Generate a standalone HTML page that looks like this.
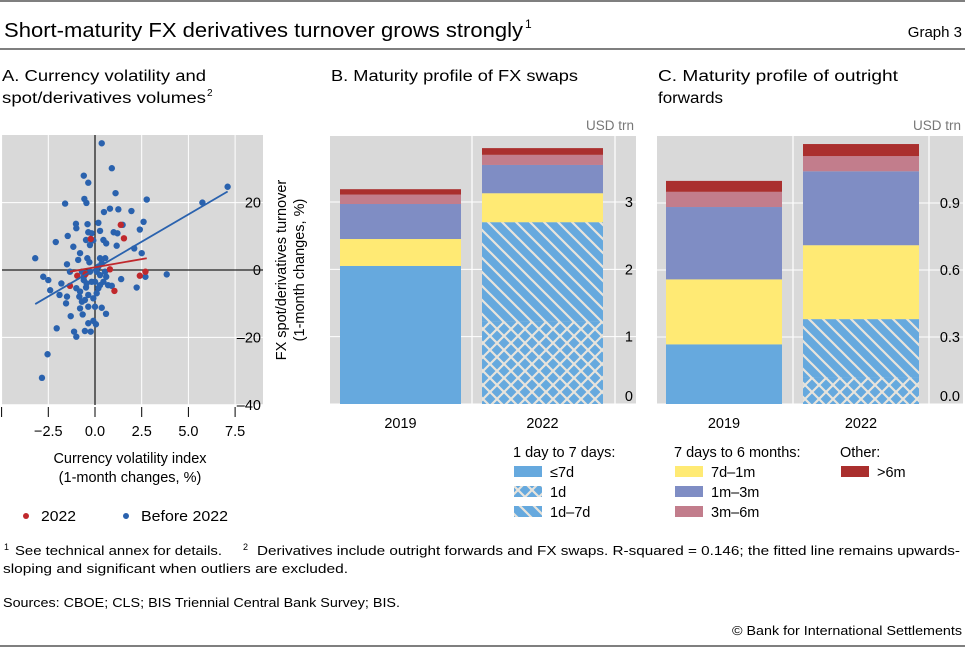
<!DOCTYPE html>
<html><head><meta charset="utf-8">
<style>
html,body{margin:0;padding:0;background:#fff;}
svg{display:block;font-family:"Liberation Sans",sans-serif;}
</style></head>
<body>
<svg id="c" width="965" height="649" viewBox="0 0 965 649">
<defs>
<pattern id="hatchD" patternUnits="userSpaceOnUse" width="14" height="14">
<rect width="14" height="14" fill="#66a9de"/>
<path d="M-2,-2 L16,16 M-2,12 L2,16 M12,-2 L16,2" stroke="#e8e4dc" stroke-width="2.2"/>
</pattern>
<pattern id="hatchX" patternUnits="userSpaceOnUse" width="14" height="14">
<rect width="14" height="14" fill="#66a9de"/>
<path d="M-2,-2 L16,16 M-2,16 L16,-2" stroke="#e8e4dc" stroke-width="2.2"/>
</pattern>
</defs>
<line x1="0" y1="1" x2="965" y2="1" stroke="#555" stroke-width="1.5"/>
<text x="4" y="37" font-size="20" textLength="519" lengthAdjust="spacingAndGlyphs">Short-maturity FX derivatives turnover grows strongly</text>
<text x="525" y="28" font-size="12">1</text>
<text x="962" y="37" font-size="15" text-anchor="end">Graph 3</text>
<line x1="0" y1="49" x2="965" y2="49" stroke="#555" stroke-width="1.5"/>

<text x="2" y="81" font-size="15.5" textLength="204" lengthAdjust="spacingAndGlyphs">A. Currency volatility and</text>
<text x="2" y="103" font-size="15.5" textLength="204" lengthAdjust="spacingAndGlyphs">spot/derivatives volumes</text>
<text x="207" y="96" font-size="10">2</text>
<text x="331" y="81" font-size="15.5" textLength="247" lengthAdjust="spacingAndGlyphs">B. Maturity profile of FX swaps</text>
<text x="658" y="81" font-size="15.5" textLength="240" lengthAdjust="spacingAndGlyphs">C. Maturity profile of outright</text>
<text x="658" y="103" font-size="15.5" textLength="65" lengthAdjust="spacingAndGlyphs">forwards</text>

<g id="pa"></g>
<g id="pb"></g>
<g id="pc"></g>

<text x="130" y="463" font-size="14.5" text-anchor="middle">Currency volatility index</text>
<text x="130" y="482" font-size="14.5" text-anchor="middle">(1-month changes, %)</text>
<g><circle cx="26" cy="516" r="3" fill="#c0282c"/><text x="41" y="521" font-size="14.5" textLength="35" lengthAdjust="spacingAndGlyphs">2022</text></g>
<g><circle cx="126" cy="516" r="3" fill="#2a62ae"/><text x="141" y="521" font-size="14.5" textLength="87" lengthAdjust="spacingAndGlyphs">Before 2022</text></g>

<text x="513" y="457" font-size="14.5">1 day to 7 days:</text>
<g><rect x="514" y="466" width="28" height="11" fill="#66a9de"/><text x="550" y="477" font-size="14.5">≤7d</text></g>
<g><rect x="514" y="486" width="28" height="11" fill="url(#hatchX)"/><text x="550" y="497" font-size="14.5">1d</text></g>
<g><rect x="514" y="506" width="28" height="11" fill="url(#hatchD)"/><text x="550" y="517" font-size="14.5">1d–7d</text></g>
<text x="674" y="457" font-size="14.5">7 days to 6 months:</text>
<g><rect x="675" y="466" width="28" height="11" fill="#ffea74"/><text x="711" y="477" font-size="14.5">7d–1m</text></g>
<g><rect x="675" y="486" width="28" height="11" fill="#7f8dc4"/><text x="711" y="497" font-size="14.5">1m–3m</text></g>
<g><rect x="675" y="506" width="28" height="11" fill="#c27d8c"/><text x="711" y="517" font-size="14.5">3m–6m</text></g>
<text x="840" y="457" font-size="14.5">Other:</text>
<g><rect x="841" y="466" width="28" height="11" fill="#aa2f2e"/><text x="877" y="477" font-size="14.5">&gt;6m</text></g>

<text x="4" y="550" font-size="9">1</text>
<text x="15" y="555" font-size="13" textLength="207" lengthAdjust="spacingAndGlyphs">See technical annex for details.</text>
<text x="243" y="550" font-size="9">2</text>
<text x="257" y="555" font-size="13" textLength="703" lengthAdjust="spacingAndGlyphs">Derivatives include outright forwards and FX swaps. R-squared = 0.146; the fitted line remains upwards-</text>
<text x="3" y="573" font-size="13" textLength="345" lengthAdjust="spacingAndGlyphs">sloping and significant when outliers are excluded.</text>
<text x="3" y="607" font-size="13" textLength="397" lengthAdjust="spacingAndGlyphs">Sources: CBOE; CLS; BIS Triennial Central Bank Survey; BIS.</text>
<text x="732" y="635" font-size="13" textLength="230" lengthAdjust="spacingAndGlyphs">© Bank for International Settlements</text>
<line x1="0" y1="646" x2="965" y2="646" stroke="#555" stroke-width="1.5"/>
</svg>
<script>
var NS='http://www.w3.org/2000/svg';
var blueX=[0.36,0.9,-0.6,-0.36,1.1,7.1,5.75,2.77,-1.6,-0.57,-0.46,0.8,1.25,0.48,1.95,-1.02,-1.0,-0.4,0.18,2.6,2.4,-1.46,-0.36,0.27,1.0,1.2,1.48,-0.18,-2.1,-0.48,-0.09,0.45,0.6,-1.16,-0.27,1.16,-0.8,2.1,-3.2,-1.5,-0.9,-0.41,-0.3,0.27,0.55,0.36,2.5,-2.77,-2.5,-1.34,-0.7,-0.27,0.09,0.27,0.6,-0.6,-0.18,0.45,-1.8,1.4,2.7,3.84,-2.4,-1.0,-0.48,0.18,0.7,0.9,-1.9,-1.5,-0.84,-0.36,0.09,2.23,-1.55,-0.7,-0.54,-0.8,-0.36,0.0,0.36,-0.66,-1.3,0.59,-0.09,-0.36,0.05,-2.05,-1.12,-1.0,-0.54,-0.23,-2.54,-2.84,0.18,-0.6,0.0,0.27,-0.45,-0.8,-0.09,0.54];
var blueY=[37.6,30.2,28,25.9,22.8,24.7,20,20.9,19.7,21.1,19.9,18.2,18,17.2,17.5,13.7,12.4,13.6,14,14.3,12,10.1,11.2,11.6,11.2,10.9,13.4,10.9,8.3,8.9,8.8,8.9,7.9,6.9,7.4,7.2,5,6.4,3.5,1.7,3,3.5,2.3,3.5,3.5,2,5,-2,-3,-0.5,-0.5,-0.5,-0.5,-1.5,-2,-3,-3.5,-3.5,-4,-2.7,-2,-1.3,-6,-5.4,-5.2,-5.4,-4.5,-4.7,-7.4,-7.9,-7.9,-7.4,-6.9,-5.2,-9.9,-9.4,-8.9,-11.4,-10.9,-10.9,-11.2,-13.2,-13.7,-13,-15.1,-15.8,-16.1,-17.3,-18.3,-19.8,-18.1,-18.3,-25,-32,1,-2,-3.5,-4.5,-4,-6.4,-8.4,-0.5];
var redX=[1.38,1.55,-0.23,0.8,-0.95,-0.5,-1.34,2.4,2.7,1.04];
var redY=[13.4,9.4,9.2,0.2,-1.7,-1.2,-4.7,-1.7,-0.5,-6.2];
var blueFitX=[-3.2,7.1], blueFitY=[-10.1,23.3];
var redFitX=[-1.34,2.77], redFitY=[-0.5,3.5];
var aXTicks=[-5,-2.5,0,2.5,5,7.5];
var aXLabels=['','−2.5','0.0','2.5','5.0','7.5'];
var aYTicks=[20,0,-20,-40];
var aYLabels=['20','0','–20','–40'];
function ax(v){return 95+v*18.68;}
function ay(v){return 270-v*3.37;}
function el(p,t,a){var e=document.createElementNS(NS,t);for(var k in a)e.setAttribute(k,a[k]);p.appendChild(e);return e;}
var pa=document.getElementById('pa');
var bg=el(pa,'rect',{x:2,y:135,width:261,height:270,fill:'#d9d9d9'});


aXTicks.forEach(function(t,i){
  if(t!==0){var g=el(pa,'line',{x1:ax(t),x2:ax(t),y1:135,y2:405,stroke:'#fff','stroke-width':1});
  }
  var tk=el(pa,'line',{x1:ax(t),x2:ax(t),y1:407,y2:417,stroke:'#000','stroke-width':1});
  
  var tl=el(pa,'text',{x:ax(t),y:436,'font-size':14.5,'text-anchor':'middle'});tl.textContent=aXLabels[i];
  
});
aYTicks.forEach(function(t,i){
  if(t!==0){var g=el(pa,'line',{x1:2,x2:263,y1:ay(t),y2:ay(t),stroke:'#fff','stroke-width':1});
  }
  var tl=el(pa,'text',{x:261,y:ay(t)+5,'font-size':14.5,'text-anchor':'end'});tl.textContent=aYLabels[i];
  
});
var z1=el(pa,'line',{x1:2,x2:263,y1:ay(0),y2:ay(0),stroke:'#222','stroke-width':1.3});

var z2=el(pa,'line',{x1:ax(0),x2:ax(0),y1:135,y2:405,stroke:'#222','stroke-width':1.3});

blueX.forEach(function(x,i){var c=el(pa,'circle',{cx:ax(x),cy:ay(blueY[i]),r:3.2,fill:'#2a62ae'});
  });
redX.forEach(function(x,i){var c=el(pa,'circle',{cx:ax(x),cy:ay(redY[i]),r:3.2,fill:'#c0282c'});
  });
var bl=el(pa,'line',{x1:ax(blueFitX[0]),y1:ay(blueFitY[0]),x2:ax(blueFitX[1]),y2:ay(blueFitY[1]),stroke:'#2a62ae','stroke-width':1.8});

var rl=el(pa,'line',{x1:ax(redFitX[0]),y1:ay(redFitY[0]),x2:ax(redFitX[1]),y2:ay(redFitY[1]),stroke:'#c0282c','stroke-width':1.8});

var yt=el(pa,'text',{transform:'translate(286,270) rotate(-90)','font-size':14.5,'text-anchor':'middle'});
yt.textContent='FX spot/derivatives turnover';

var yt2=el(pa,'text',{transform:'translate(304,270) rotate(-90)','font-size':14.5,'text-anchor':'middle'});
yt2.textContent='(1-month changes, %)';


var years=['2019','2022'];
var segNames=['le7d','1d','1d-7d','7d-1m','1m-3m','3m-6m','gt6m'];
var segFill=['#66a9de','url(#hatchX)','url(#hatchD)','#ffea74','#7f8dc4','#c27d8c','#aa2f2e'];
var swaps2019=[2.05,0,0,0.40,0.52,0.14,0.08];
var swaps2022=[0,1.22,1.48,0.43,0.42,0.15,0.10];
var fwd2019=[0.267,0,0,0.291,0.324,0.068,0.049];
var fwd2022=[0,0.119,0.261,0.331,0.331,0.068,0.054];
var bTicks=[0,1,2,3], bLabels=['0','1','2','3'];
var cTicks=[0,0.3,0.6,0.9], cLabels=['0.0','0.3','0.6','0.9'];

function panel(id,x0,x1,vlines,yMax,ticks,labels,barX,barW,data){
  var g=document.getElementById(id);
  function sy(v){return 404-v/yMax*268;}
  var r=el(g,'rect',{x:x0,y:136,width:x1-x0,height:268,fill:'#d9d9d9'});
  
  ticks.forEach(function(t){
    var l=el(g,'line',{x1:x0,x2:x1,y1:sy(t),y2:sy(t),stroke:'#fff','stroke-width':1});
    
  });
  vlines.forEach(function(v){var l=el(g,'line',{x1:v,x2:v,y1:136,y2:404,stroke:'#fff','stroke-width':1.2});
    });
  data.forEach(function(d,b){
    var acc=0;
    d.forEach(function(v,s){
      if(v<=0)return;
      var rr=el(g,'rect',{x:barX[b],y:sy(acc+v),width:barW,height:sy(acc)-sy(acc+v),fill:segFill[s]});
      
      
      acc+=v;
    });
    var xl=el(g,'text',{x:barX[b]+barW/2,y:428,'font-size':14.5,'text-anchor':'middle'});xl.textContent=years[b];
    
  });
  ticks.forEach(function(t,i){
    var tl=el(g,'text',{x:x1-3,y:sy(t)+(i===0?-3:5),'font-size':14.5,'text-anchor':'end'});tl.textContent=labels[i];
    
  });
  var u=el(g,'text',{x:x1-2,y:130,'font-size':13.5,'text-anchor':'end',fill:'#777'});u.textContent='USD trn';
  
}
panel('pb',330,636,[472,615],3.98,bTicks,bLabels,[340,482],121,[swaps2019,swaps2022]);
panel('pc',657,963,[793,929],1.2,cTicks,cLabels,[666,803],116,[fwd2019,fwd2022]);
</script>
</body></html>
